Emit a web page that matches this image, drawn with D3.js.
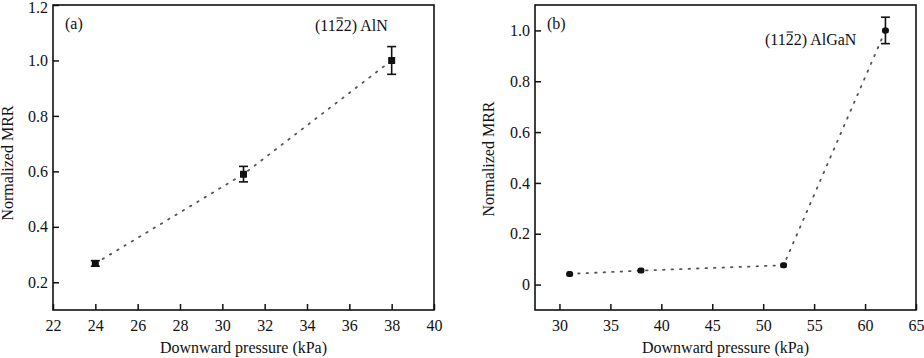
<!DOCTYPE html>
<html><head><meta charset="utf-8">
<script src="https://cdn.jsdelivr.net/npm/d3@7/dist/d3.min.js"></script>
<style>body{margin:0;background:#fff}svg{display:block}text{font-family:"Liberation Serif","DejaVu Serif",serif;fill:#111}</style>
</head><body>
<svg id="c" width="924" height="358"></svg>
<script>
// Panel (a): (11-22) AlN
const pressureA = [24, 31, 38];
const mrrA = [0.268, 0.59, 1.0];
const errA = [0.01, 0.028, 0.05];
const xTicksA = [22, 24, 26, 28, 30, 32, 34, 36, 38, 40];
const yTicksA = [0.2, 0.4, 0.6, 0.8, 1.0, 1.2];
// Panel (b): (11-22) AlGaN
const pressureB = [31, 38, 52, 62];
const mrrB = [0.042, 0.055, 0.076, 1.0];
const errB = [0, 0, 0, 0.052];
const xTicksB = [30, 35, 40, 45, 50, 55, 60, 65];
const yTicksB = [0, 0.2, 0.4, 0.6, 0.8, 1.0];

const svg = d3.select("#c");

function panel(o) {
  const g = svg.append("g");
  const x = d3.scaleLinear().domain(o.xDomain).range([o.left, o.right]);
  const y = d3.scaleLinear().domain(o.yDomain).range([o.bottom, o.top]);
  // dotted connecting line
  g.append("path")
    .datum(o.xs.map((v, i) => [v, o.ys[i]]))
    .attr("d", d3.line().x(d => x(d[0])).y(d => y(d[1])))
    .attr("fill", "none").attr("stroke", "#555").attr("stroke-width", 1.8)
    .attr("stroke-dasharray", "1.5,7").attr("stroke-linecap", "round");
  // error bars
  o.xs.forEach((v, i) => {
    const e = o.err[i];
    if (!e) return;
    const cx = x(v);
    g.append("line").attr("x1", cx).attr("x2", cx).attr("y1", y(o.ys[i] - e)).attr("y2", y(o.ys[i] + e))
      .attr("stroke", "#111").attr("stroke-width", 1.6);
    [o.ys[i] - e, o.ys[i] + e].forEach(yy => {
      g.append("line").attr("x1", cx - 4.5).attr("x2", cx + 4.5).attr("y1", y(yy)).attr("y2", y(yy))
        .attr("stroke", "#111").attr("stroke-width", 1.6);
    });
  });
  // markers
  o.xs.forEach((v, i) => {
    g.append("rect").attr("x", x(v) - o.mw / 2).attr("y", y(o.ys[i]) - o.mh / 2)
      .attr("width", o.mw).attr("height", o.mh).attr("rx", o.rx).attr("fill", "#111");
  });
  // frame
  g.append("rect").attr("x", o.left).attr("y", o.top).attr("width", o.right - o.left).attr("height", o.bottom - o.top)
    .attr("fill", "none").attr("stroke", "#111").attr("stroke-width", 1.6);
  // x ticks (inward)
  const xa = d3.axisBottom(x).tickValues(o.xTicks).tickSize(-6).tickPadding(10).tickFormat(d3.format("d"));
  const gx = g.append("g").attr("transform", `translate(0,${o.bottom})`).call(xa);
  gx.select(".domain").remove();
  gx.selectAll("line").attr("stroke", "#111").attr("stroke-width", 1.5);
  gx.selectAll("text").attr("font-size", 16).attr("font-family", "Liberation Serif").attr("fill", "#111");
  // y ticks (inward)
  const ya = d3.axisLeft(y).tickValues(o.yTicks).tickSize(-6).tickPadding(5).tickFormat(o.yFmt);
  const gy = g.append("g").attr("transform", `translate(${o.left},0)`).call(ya);
  gy.select(".domain").remove();
  gy.selectAll("line").attr("stroke", "#111").attr("stroke-width", 1.5);
  gy.selectAll("text").attr("font-size", 16).attr("font-family", "Liberation Serif").attr("fill", "#111")
    .attr("y", d => Math.max(0, 7 - y(d)));
  // axis titles
  g.append("text").attr("x", (o.left + o.right) / 2).attr("y", 353).attr("text-anchor", "middle")
    .attr("font-size", 16).text("Downward pressure (kPa)");
  g.append("text").attr("transform", `translate(${o.yTitleX},${o.yTitleY}) rotate(-90)`).attr("text-anchor", "middle")
    .attr("font-size", 16).text("Normalized MRR");
  // panel letter
  g.append("text").attr("x", o.left + 12).attr("y", 29).attr("font-size", 16).text(o.letter);
  // material label with overbar on the first "2"
  const t = g.append("text").attr("x", o.labX).attr("y", o.labY).attr("font-size", 16).text("(1122) " + o.material);
  const ext = t.node().getExtentOfChar(3);
  g.append("line").attr("x1", ext.x + 0.8).attr("x2", ext.x + ext.width - 0.8)
    .attr("y1", o.labY - 13).attr("y2", o.labY - 13).attr("stroke", "#111").attr("stroke-width", 1);
}

panel({
  left: 53, right: 434, top: 5, bottom: 310,
  xDomain: [22, 40], yDomain: [0.1, 1.2],
  xs: pressureA, ys: mrrA, err: errA, xTicks: xTicksA, yTicks: yTicksA,
  yFmt: d3.format(".1f"), mw: 7, mh: 7, rx: 0.5,
  yTitleX: 13, yTitleY: 163, letter: "(a)", material: "AlN", labX: 315, labY: 31
});
panel({
  left: 535, right: 916, top: 5, bottom: 310,
  xDomain: [27.6, 65], yDomain: [-0.1, 1.1],
  xs: pressureB, ys: mrrB, err: errB, xTicks: xTicksB, yTicks: yTicksB,
  yFmt: d => d === 0 ? "0" : d3.format(".1f")(d), mw: 7, mh: 6, rx: 2.5,
  yTitleX: 494, yTitleY: 159, letter: "(b)", material: "AlGaN", labX: 765, labY: 45
});
</script>
</body></html>
